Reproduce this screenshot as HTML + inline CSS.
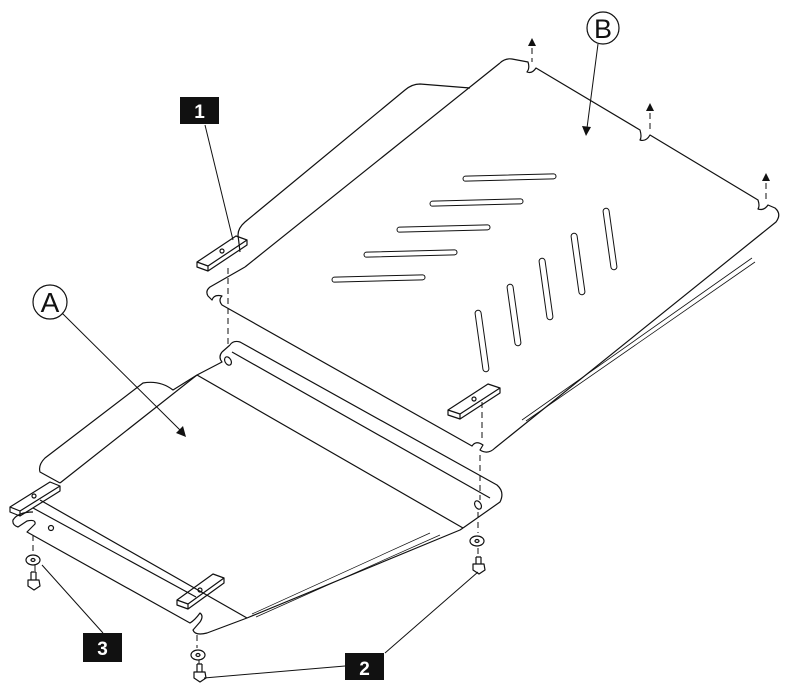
<!DOCTYPE html>
<html><head><meta charset="utf-8"><style>
html,body{margin:0;padding:0;background:#fff;}
svg{display:block}
text{font-family:"Liberation Sans",sans-serif;}
</style></head><body>
<svg width="800" height="698" viewBox="0 0 800 698" xmlns="http://www.w3.org/2000/svg">
<g fill="none" stroke="#111" stroke-width="1.2" stroke-linejoin="round">
<!-- Plate B flange -->
<path d="M240,252 L238,235 Q238,228 245,222 L405,90 Q412,84 420,84 L470,88"/>
<path d="M245,267 L500,63"/>
<!-- Plate B main -->
<path d="M500,63 Q505,58 512,59 L528,62 Q530,68 527,72 Q532,74 536,68 L640,130 Q642,137 640,140 Q646,142 650,135 L758,200 Q760,206 758,209 Q764,211 768,205 L775,208 Q782,214 776,222 L495,448 Q488,455 480,450 L483,445 Q476,440 472,446 L222,305 Q218,300 222,296 Q214,294 212,300 L208,296 Q205,291 210,287 L245,267"/>
<path d="M522,420 L752,258 M526,421 L755,262" stroke-width="0.8"/>
<!-- slots -->
<g stroke-width="1">
<rect x="463" y="175" width="93" height="5" rx="2.5" transform="rotate(-1.5 509 177)"/>
<rect x="430" y="200" width="93" height="5" rx="2.5" transform="rotate(-1.5 476 202)"/>
<rect x="397" y="226" width="93" height="5" rx="2.5" transform="rotate(-1.5 443 228)"/>
<rect x="364" y="251" width="93" height="5" rx="2.5" transform="rotate(-1.5 410 253)"/>
<rect x="332" y="276" width="93" height="5" rx="2.5" transform="rotate(-1.5 378 278)"/>
<rect x="479" y="310" width="6" height="62" rx="3" transform="rotate(-8 482 341)"/>
<rect x="511" y="284" width="6" height="62" rx="3" transform="rotate(-8 514 315)"/>
<rect x="543" y="258" width="6" height="62" rx="3" transform="rotate(-8 546 289)"/>
<rect x="575" y="233" width="6" height="62" rx="3" transform="rotate(-8 578 264)"/>
<rect x="607" y="208" width="6" height="62" rx="3" transform="rotate(-8 610 239)"/>
</g>
<!-- tabs on B -->
<path d="M197,262 L236,236 L247,240 L208,266 Z M197,262 L197,267 L208,271 L208,266 M208,271 L247,245 L247,240"/>
<circle cx="222" cy="251" r="2"/>
<path d="M448,410 L488,384 L500,388 L460,414 Z M448,410 L448,415 L460,419 L460,414 M460,419 L500,393 L500,388"/>
<circle cx="474" cy="399" r="2"/>
<!-- Plate A rear flange -->
<path d="M230,345 Q233,340 240,342 L497,485 Q505,492 500,502 L463,528"/>
<path d="M222,352 L230,345 M222,352 Q218,357 222,362 L197,375"/>
<path d="M232,352 L490,498 M197,375 L463,528"/>
<ellipse cx="228" cy="361" rx="3" ry="4.5" transform="rotate(-30 228 361)"/>
<ellipse cx="478" cy="505" rx="3" ry="4.5" transform="rotate(-30 478 505)"/>
<!-- Plate A left flange -->
<path d="M197,375 L173,390 Q160,380 143,383 L45,458 Q38,465 40,472 L60,483"/>
<path d="M197,375 L60,483"/>
<!-- front part -->
<path d="M10,507 L50,482 L60,486 L20,511 Z M10,507 L10,512 L20,516 L20,511 M20,516 L60,491 L60,486"/>
<circle cx="34" cy="496" r="2"/>
<path d="M40,500 L247,618 M33,508 L196,597"/>
<path d="M33,512 Q18,512 13,520 Q12,525 18,527 L27,521 Q36,519 35,524 L27,532 L190,623 Q195,620 200,613 Q204,616 200,622 L193,630 Q195,636 207,633 L247,618 L460,530 L463,528"/>
<circle cx="51" cy="528" r="2.5"/>
<path d="M252,614 L430,533 M256,617 L440,535" stroke-width="0.7"/>
<path d="M177,600 L213,574 L224,578 L188,604 Z M177,600 L177,605 L188,609 L188,604 M188,609 L224,583 L224,578"/>
<circle cx="200" cy="590" r="2"/>
<!-- washers and bolts -->
<ellipse cx="33" cy="560" rx="7" ry="5"/><ellipse cx="33" cy="560" rx="2" ry="1.5"/>
<ellipse cx="198" cy="655" rx="7" ry="5"/><ellipse cx="198" cy="655" rx="2" ry="1.5"/>
<ellipse cx="477" cy="541" rx="7" ry="5"/><ellipse cx="477" cy="541" rx="2" ry="1.5"/>
<path d="M31,572 L31,580 M36,572 L36,580 M31,572 L36,572 M28,580 L39,580 L40,586 L34,590 L28,586 Z"/>
<path d="M197,664 L197,672 M202,664 L202,672 M197,664 L202,664 M194,672 L205,672 L206,678 L200,682 L194,678 Z"/>
<path d="M476,557 L476,564 M481,557 L481,564 M476,557 L481,557 M473,564 L484,564 L485,570 L479,574 L473,570 Z"/>
<!-- dashed -->
<g stroke-dasharray="6,4" stroke-width="1">
<path d="M228,268 L228,345 M482,402 L482,440 M480,455 L480,500 M478,512 L478,533 M197,635 L197,648 M33,535 L33,553 M35,565 L35,572 M199,660 L199,664 M478,548 L478,556"/>
<path d="M532,48 L532,62 M650,113 L650,130 M766,183 L766,200"/>
</g>
<!-- leaders -->
<path d="M205,125 L233,240 M103,633 L42,565 M345,666 L204,678 M385,653 L478,572 M598,44 L587,128 M62,313 L180,430" stroke-width="1"/>
<circle cx="603" cy="28" r="16"/>
<circle cx="50" cy="302" r="17"/>
</g>
<g fill="#111">
<path d="M532,38 L528,46 L536,46 Z M650,103 L646,111 L654,111 Z M766,173 L762,181 L770,181 Z"/>
<path d="M586,136 L582,126 L591,127 Z"/>
<path d="M186,437 L176,433 L183,426 Z"/>
<rect x="180" y="97" width="39" height="27"/>
<rect x="83" y="633" width="39" height="29"/>
<rect x="345" y="653" width="39" height="27"/>
</g>
<text x="199.5" y="118" font-size="19" font-weight="bold" fill="#fff" text-anchor="middle">1</text>
<text x="102.5" y="655" font-size="19" font-weight="bold" fill="#fff" text-anchor="middle">3</text>
<text x="364.5" y="675" font-size="19" font-weight="bold" fill="#fff" text-anchor="middle">2</text>
<text x="603" y="38" font-size="27" fill="#111" text-anchor="middle">B</text>
<text x="50" y="312" font-size="28" fill="#111" text-anchor="middle">A</text>
</svg>
</body></html>
